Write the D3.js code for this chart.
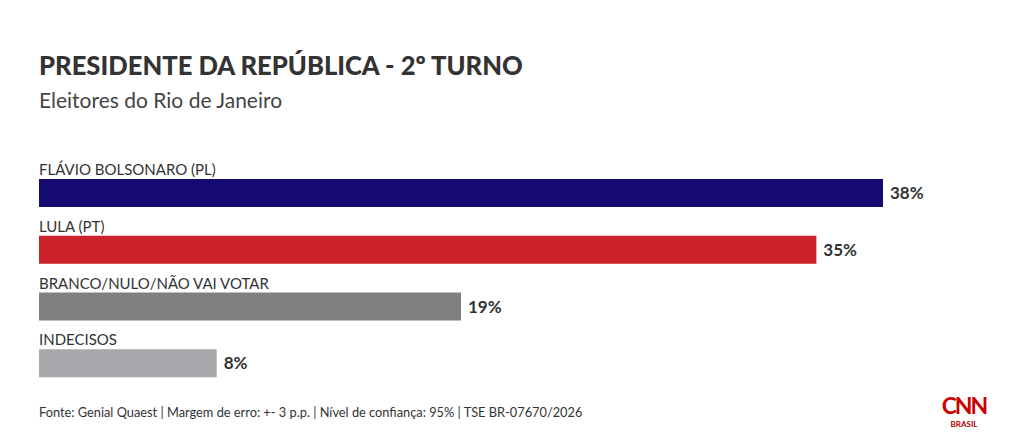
<!DOCTYPE html>
<html>
<head>
<meta charset="utf-8">
<title>presidente 2o turno</title>
<script src="https://cdn.jsdelivr.net/npm/d3@7"></script>
<style>
  body { margin: 0; background: #fff; }
  text { font-family: "Source Sans Pro", Lato, "Noto Sans", sans-serif; fill: #333; }
</style>
</head>
<body>
<script>
// data
var categories = ["FLÁVIO BOLSONARO (PL)", "LULA (PT)", "BRANCO/NULO/NÃO VAI VOTAR", "INDECISOS"]
var values = [38, 35, 19, 8]
var colors = ["#140a72", "#cc2229", "#808080", "#a6a8ab"]

var w = 1020, h = 439
var svg = d3.select("body").append("svg").attr("width", w).attr("height", h)

// title + subtitle
svg.append("text").attr("x", 39).attr("y", 75)
  .style("font-size", "25.6px").style("font-weight", "900")
  .text("PRESIDENTE DA REPÚBLICA - 2º TURNO")
svg.append("text").attr("x", 39).attr("y", 108)
  .style("font-size", "21px").style("fill", "#444")
  .text("Eleitores do Rio de Janeiro")

// scales
var x = d3.scaleLinear().domain([0, 38]).range([39, 883])
var y = d3.scaleBand().domain(categories).range([164, 391]).paddingInner(0)

var g = svg.selectAll(".row").data(categories).enter().append("g")
  .attr("transform", function(d) { return "translate(0," + y(d) + ")" })

g.append("text").attr("x", 39).attr("y", 11)
  .style("font-size", "15px")
  .text(function(d) { return d })

g.append("rect")
  .attr("x", x(0)).attr("y", 15)
  .attr("height", 28)
  .attr("width", function(d, i) { return x(values[i]) - x(0) })
  .attr("fill", function(d, i) { return colors[i] })

g.append("text")
  .attr("x", function(d, i) { return x(values[i]) + 7 })
  .attr("y", 35)
  .style("font-size", "17px").style("font-weight", "bold")
  .text(function(d, i) { return values[i] + "%" })

// footer
svg.append("text").attr("x", 39).attr("y", 417)
  .style("font-size", "12.8px")
  .text("Fonte: Genial Quaest | Margem de erro: +- 3 p.p. | Nível de confiança: 95% | TSE BR-07670/2026")

// logo
svg.append("text").attr("x", 964).attr("y", 414).attr("text-anchor", "middle")
  .style("font-size", "23px").style("font-weight", "bold").style("fill", "#cc0000")
  .style("letter-spacing", "-2px")
  .text("CNN")
svg.append("text").attr("x", 964).attr("y", 427).attr("text-anchor", "middle")
  .style("font-size", "8px").style("font-weight", "bold").style("fill", "#b00000")
  .text("BRASIL")
</script>
</body>
</html>
